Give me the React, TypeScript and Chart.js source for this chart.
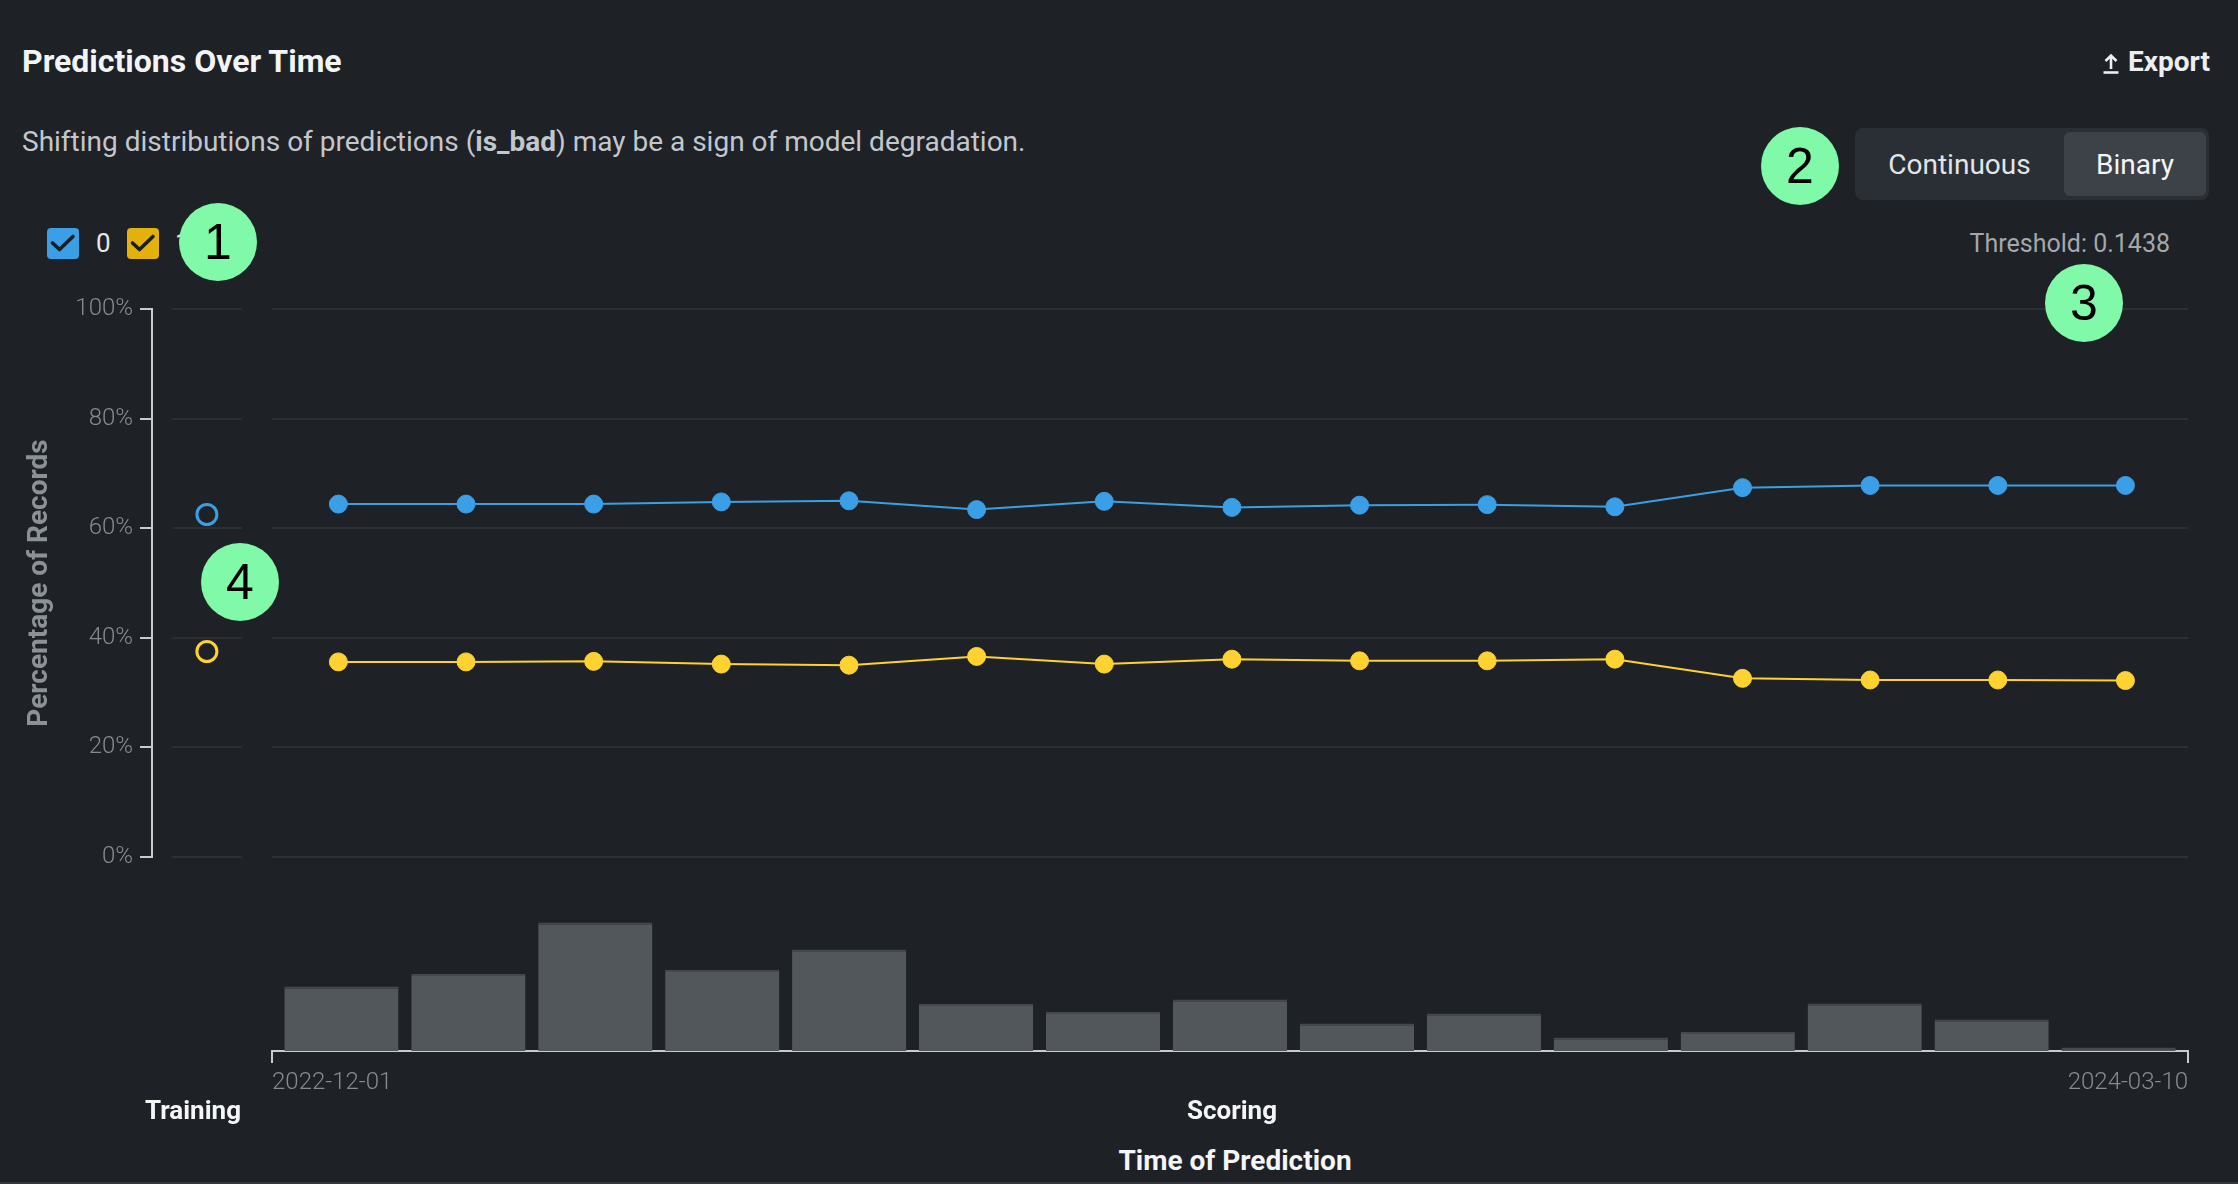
import React, { useEffect, useRef } from "react";
import { Chart, registerables } from "chart.js";

Chart.register(...registerables);

// ---------------- data ----------------
const PERIODS = [
  "2022-12-01", "2023-01-01", "2023-02-01", "2023-03-04", "2023-04-04",
  "2023-05-05", "2023-06-05", "2023-07-06", "2023-08-06", "2023-09-06",
  "2023-10-07", "2023-11-07", "2023-12-08", "2024-01-08", "2024-02-08",
];
const END_DATE = "2024-03-10";
const CLASS_LABELS = ["0", "1"];
const CLASS_0_SCORING = [64.4, 64.4, 64.4, 64.8, 65.0, 63.4, 64.9, 63.8, 64.2, 64.3, 63.9, 67.4, 67.8, 67.8, 67.8];
const CLASS_1_SCORING = [35.6, 35.6, 35.7, 35.2, 35.0, 36.6, 35.2, 36.1, 35.8, 35.8, 36.1, 32.6, 32.3, 32.3, 32.2];
const CLASS_0_TRAINING = 62.5;
const CLASS_1_TRAINING = 37.5;
const PREDICTION_COUNTS = [645, 770, 1285, 810, 1015, 470, 390, 515, 275, 375, 135, 190, 475, 315, 35];
const Y_TICKS = [0, 20, 40, 60, 80, 100];
const THRESHOLD = "0.1438";

// ---------------- style ----------------
const BG = "#1e2126";
const BLUE = "#3a9fe6";
const YELLOW = "#fdd231";
const GOLD = "#e4b00c";
const GRID = "#2b2f36";
const AXIS = "#c8ccd1";
const TICK = "#868b91";
const BAR = "#52575b";
const BAR_EDGE = "#45494d";
const FONT = "Roboto, 'Noto Sans', sans-serif";

// x layout (in period-index units) for the line chart
const X_MIN = -1.46;
const X_MAX = 14.49;
const TRAINING_X = -1.03;
const TRAIN_BAND = [-1.3, -0.755];
const SCORE_BAND = [-0.52, 14.49];
const BAR_X_MIN = -0.547;
const BAR_X_MAX = 14.547;

const splitGrid = {
  id: "splitGrid",
  beforeDatasetsDraw(chart: any) {
    const { ctx } = chart;
    const xs = chart.scales.x;
    const ys = chart.scales.y;
    ctx.save();
    ctx.strokeStyle = GRID;
    ctx.lineWidth = 2;
    ys.ticks.forEach((t: any) => {
      const py = Math.round(ys.getPixelForValue(t.value));
      [TRAIN_BAND, SCORE_BAND].forEach(([a, b]) => {
        ctx.beginPath();
        ctx.moveTo(xs.getPixelForValue(a), py);
        ctx.lineTo(xs.getPixelForValue(b), py);
        ctx.stroke();
      });
    });
    ctx.restore();
  },
};

function LineChart() {
  const ref = useRef<HTMLCanvasElement>(null);
  useEffect(() => {
    const chart = new Chart(ref.current as HTMLCanvasElement, {
      type: "line",
      data: {
        datasets: [
          {
            label: CLASS_LABELS[0] + " training",
            data: [{ x: TRAINING_X, y: CLASS_0_TRAINING }],
            showLine: false,
            borderColor: BLUE,
            backgroundColor: BG,
            pointBackgroundColor: BG,
            pointBorderColor: BLUE,
            pointRadius: 10,
            pointBorderWidth: 3,
          },
          {
            label: CLASS_LABELS[1] + " training",
            data: [{ x: TRAINING_X, y: CLASS_1_TRAINING }],
            showLine: false,
            borderColor: YELLOW,
            backgroundColor: BG,
            pointBackgroundColor: BG,
            pointBorderColor: YELLOW,
            pointRadius: 10,
            pointBorderWidth: 3,
          },
          {
            label: CLASS_LABELS[0],
            data: CLASS_0_SCORING.map((v, i) => ({ x: i, y: v })),
            borderColor: BLUE,
            backgroundColor: BLUE,
            pointBackgroundColor: BLUE,
            pointBorderColor: BLUE,
            borderWidth: 2,
            pointRadius: 9,
            pointBorderWidth: 1,
            tension: 0,
          },
          {
            label: CLASS_LABELS[1],
            data: CLASS_1_SCORING.map((v, i) => ({ x: i, y: v })),
            borderColor: YELLOW,
            backgroundColor: YELLOW,
            pointBackgroundColor: YELLOW,
            pointBorderColor: YELLOW,
            borderWidth: 2,
            pointRadius: 9,
            pointBorderWidth: 1,
            tension: 0,
          },
        ],
      },
      options: {
        animation: false,
        responsive: true,
        maintainAspectRatio: false,
        events: [],
        layout: { padding: { top: 28, bottom: 24, right: 50, left: 0 } },
        plugins: { legend: { display: false }, tooltip: { enabled: false } },
        scales: {
          x: { type: "linear", display: false, min: X_MIN, max: X_MAX },
          y: {
            type: "linear",
            min: 0,
            max: 100,
            afterBuildTicks: (s: any) => {
              s.ticks = Y_TICKS.map((v) => ({ value: v }));
            },
            afterFit: (s: any) => {
              s.width = 152;
            },
            ticks: {
              callback: (v: any) => v + "%",
              color: TICK,
              font: { family: FONT, size: 24, weight: "300" as any },
              padding: 7,
            },
            grid: { drawOnChartArea: false, drawTicks: true, tickLength: 12, color: AXIS, lineWidth: 2 },
            border: { display: true, color: AXIS, width: 2 },
            title: {
              display: true,
              text: "Percentage of Records",
              color: "#8c9196",
              font: { family: FONT, size: 28, weight: "bold" },
              padding: { top: 23, bottom: 0 },
            },
          },
        },
      },
      plugins: [splitGrid],
    } as any);
    return () => chart.destroy();
  }, []);
  return (
    <div style={{ position: "absolute", left: 0, top: 281, width: 2238, height: 600 }}>
      <canvas ref={ref} />
    </div>
  );
}

function BarChart() {
  const ref = useRef<HTMLCanvasElement>(null);
  useEffect(() => {
    const chart = new Chart(ref.current as HTMLCanvasElement, {
      type: "bar",
      data: {
        datasets: [
          {
            label: "Predictions",
            data: PREDICTION_COUNTS.map((v, i) => ({ x: i, y: v })),
            backgroundColor: BAR,
            borderColor: BAR_EDGE,
            borderWidth: { top: 2, left: 0, right: 0, bottom: 0 },
            borderSkipped: "bottom",
            categoryPercentage: 0.9,
            barPercentage: 1,
          },
        ],
      },
      options: {
        animation: false,
        responsive: true,
        maintainAspectRatio: false,
        events: [],
        layout: { padding: { left: 272, right: 50, top: 20, bottom: 0 } },
        plugins: { legend: { display: false }, tooltip: { enabled: false } },
        scales: {
          x: {
            type: "linear",
            offset: false,
            min: BAR_X_MIN,
            max: BAR_X_MAX,
            afterBuildTicks: (s: any) => {
              s.ticks = [{ value: s.min }, { value: s.max }];
            },
            afterFit: (s: any) => {
              s.height = 60;
            },
            ticks: {
              callback: (_v: any, i: number) => (i === 0 ? PERIODS[0] : END_DATE),
              align: "inner",
              autoSkip: false,
              maxRotation: 0,
              color: TICK,
              font: { family: FONT, size: 24, weight: "300" as any },
              padding: 6,
            },
            grid: { offset: false, drawOnChartArea: false, drawTicks: true, tickLength: 12, color: AXIS, lineWidth: 2 },
            border: { display: true, color: AXIS, width: 2 },
          },
          y: { display: false, min: 0, max: 1500 },
        },
      },
    } as any);
    return () => chart.destroy();
  }, []);
  return (
    <div style={{ position: "absolute", left: 0, top: 881, width: 2238, height: 230 }}>
      <canvas ref={ref} />
    </div>
  );
}

function Check({ left, color }: { left: number; color: string }) {
  return (
    <div
      style={{
        position: "absolute",
        left,
        top: 228,
        width: 32,
        height: 31,
        borderRadius: 4,
        background: color,
      }}
    >
      <svg width="32" height="31" viewBox="0 0 32 31" style={{ display: "block" }}>
        <path d="M5.5 15 L12.5 21.5 L26 8.5" stroke="#1b1e22" strokeWidth="3.6" fill="none" strokeLinecap="round" strokeLinejoin="round" />
      </svg>
    </div>
  );
}

function Marker({ n, cx, cy }: { n: number; cx: number; cy: number }) {
  return (
    <div
      style={{
        position: "absolute",
        left: cx - 39,
        top: cy - 39,
        width: 78,
        height: 78,
        borderRadius: "50%",
        background: "#80f9a8",
        color: "#000",
        display: "flex",
        alignItems: "center",
        justifyContent: "center",
        fontFamily: "'Liberation Sans', Arial, sans-serif",
        fontSize: 50,
        lineHeight: "50px",
        zIndex: 10,
      }}
    >
      {n}
    </div>
  );
}

export default function App() {
  useEffect(() => {
    document.body.style.margin = "0";
    document.body.style.overflow = "hidden";
    document.body.style.background = BG;
  }, []);
  const abs = (extra: any) => ({ position: "absolute" as const, whiteSpace: "nowrap" as const, ...extra });
  return (
    <div
      style={{
        position: "absolute",
        left: 0,
        top: 0,
        width: 2238,
        height: 1184,
        background: BG,
        overflow: "hidden",
        fontFamily: FONT,
        borderBottom: "2px solid #34383e",
        boxSizing: "border-box",
      }}
    >
      <div style={abs({ left: 22, top: 45, fontSize: 32, lineHeight: "32px", fontWeight: 700, color: "#f2f4f6" })}>
        Predictions Over Time
      </div>
      <svg width="18" height="22" viewBox="0 0 18 22" style={{ position: "absolute", left: 2102, top: 52 }}>
        <path d="M9 17 V3.5 M3.5 9 L9 3.5 L14.5 9" stroke="#eceef0" strokeWidth="2.6" fill="none" />
        <path d="M1.5 20.5 H16.5" stroke="#eceef0" strokeWidth="2.6" />
      </svg>
      <div style={abs({ right: 28, top: 48, fontSize: 28, lineHeight: "28px", fontWeight: 700, color: "#eceef0" })}>
        Export
      </div>
      <div style={abs({ left: 22, top: 128, fontSize: 28, lineHeight: "28px", color: "#c3c7cc" })}>
        Shifting distributions of predictions (<b>is_bad</b>) may be a sign of model degradation.
      </div>

      <div
        style={abs({
          left: 1855,
          top: 128,
          width: 354,
          height: 72,
          borderRadius: 8,
          background: "#2a2e35",
        })}
      >
        <div style={abs({ left: 0, top: 0, width: 209, height: 72, display: "flex", alignItems: "center", justifyContent: "center", fontSize: 28, color: "#e2e5e8" })}>
          Continuous
        </div>
        <div
          style={abs({
            left: 209,
            top: 4,
            width: 142,
            height: 64,
            borderRadius: 6,
            background: "#3d4148",
            display: "flex",
            alignItems: "center",
            justifyContent: "center",
            fontSize: 28,
            color: "#f4f5f7",
          })}
        >
          Binary
        </div>
      </div>
      <div style={abs({ right: 68, top: 231, fontSize: 25, lineHeight: "25px", color: "#a3a8ad" })}>
        Threshold: {THRESHOLD}
      </div>

      <Check left={47} color={BLUE} />
      <div style={abs({ left: 96, top: 230, fontSize: 26, lineHeight: "26px", color: "#e6e8eb" })}>{CLASS_LABELS[0]}</div>
      <Check left={127} color={GOLD} />
      <div style={abs({ left: 175, top: 230, fontSize: 26, lineHeight: "26px", color: "#e6e8eb" })}>{CLASS_LABELS[1]}</div>

      <LineChart />
      <BarChart />

      <div style={abs({ left: 93, width: 200, top: 1097, textAlign: "center", fontSize: 26, lineHeight: "26px", fontWeight: 700, color: "#f4f5f7" })}>
        Training
      </div>
      <div style={abs({ left: 1132, width: 200, top: 1097, textAlign: "center", fontSize: 26, lineHeight: "26px", fontWeight: 700, color: "#f4f5f7" })}>
        Scoring
      </div>
      <div style={abs({ left: 1035, width: 400, top: 1147, textAlign: "center", fontSize: 28, lineHeight: "28px", fontWeight: 700, color: "#f4f5f7" })}>
        Time of Prediction
      </div>

      <Marker n={1} cx={218} cy={242} />
      <Marker n={2} cx={1800} cy={166} />
      <Marker n={3} cx={2084} cy={303} />
      <Marker n={4} cx={240} cy={582} />
    </div>
  );
}
